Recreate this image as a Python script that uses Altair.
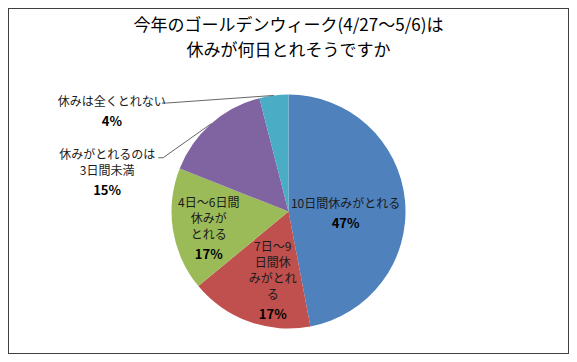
import altair as alt
import pandas as pd

# ---- data -------------------------------------------------------------
categories = [
    "10日間休みがとれる",
    "7日〜9日間休みがとれる",
    "4日〜6日間休みがとれる",
    "休みがとれるのは3日間未満",
    "休みは全くとれない",
]
shares = [47, 17, 17, 15, 4]
colors = ["#4F81BD", "#C0504D", "#9BBB59", "#8064A2", "#4BACC6"]
title_lines = ["今年のゴールデンウィーク(4/27〜5/6)は", "休みが何日とれそうですか"]

# how each category name wraps inside its label box
label_lines = {
    categories[0]: ["10日間休みがとれる"],
    categories[1]: ["7日〜9", "日間休", "みがとれ", "る"],
    categories[2]: ["4日〜6日間", "休みが", "とれる"],
    categories[3]: ["休みがとれるのは", "3日間未満"],
    categories[4]: ["休みは全くとれない"],
}

# ---- layout / style ---------------------------------------------------
W, H = 561, 346
CX, CY, R = 280.5, 203.5, 117
FONT = "Noto Sans CJK JP"
LH = 16
NAME_SIZE = 12
PCT_SIZE = 13
PCT_GAP = 3
TEXT_SHIFT = 5
LEAD_COLOR = "#666666"

df = pd.DataFrame({"category": categories, "share": shares, "idx": list(range(len(categories)))})

base = (
    alt.Chart(df)
    .transform_window(cum="sum(share)", sort=[alt.SortField("idx")], frame=[None, 0])
    .transform_joinaggregate(total="sum(share)")
    .transform_calculate(
        mid="2*PI*(datum.cum - datum.share/2)/datum.total",
        pct="datum.share + '%'",
    )
)

pie = base.mark_arc(radius=R).encode(
    theta=alt.Theta("share:Q", stack=True),
    order=alt.Order("idx:Q"),
    color=alt.Color("category:N", scale=alt.Scale(domain=categories, range=colors), legend=None),
    x=alt.value(CX),
    y=alt.value(CY),
)


def px(field):
    return alt.X(f"{field}:Q", scale=None, axis=None)


def py(field):
    return alt.Y(f"{field}:Q", scale=None, axis=None)


def text_block(sel, cat, xf, yf, dx, dy):
    lines = label_lines[cat]
    n = len(lines)
    dy = dy + TEXT_SHIFT
    name = sel.mark_text(
        font=FONT, fontSize=NAME_SIZE, color="#1a1a1a", align="center",
        baseline="top", lineHeight=LH, lineBreak="\n", dx=dx, dy=dy,
    ).encode(x=px(xf), y=py(yf), text=alt.value("\n".join(lines)))
    pct = sel.mark_text(
        font=FONT, fontSize=PCT_SIZE, fontWeight="bold", color="#000000",
        align="center", baseline="top", dx=dx, dy=dy + n * LH + PCT_GAP,
    ).encode(x=px(xf), y=py(yf), text="pct:N")
    return [name, pct]


def inside_label(cat, r, dx=0, dy=0):
    n = len(label_lines[cat])
    block = n * LH + 18
    sel = base.transform_filter(alt.datum.category == cat).transform_calculate(
        lx=f"{CX} + {r * R}*sin(datum.mid)",
        ly=f"{CY} - {r * R}*cos(datum.mid)",
    )
    return text_block(sel, cat, "lx", "ly", dx, dy - block / 2)


def outside_label(cat, ox, oy, tdx, tdy):
    sel = base.transform_filter(alt.datum.category == cat).transform_calculate(
        ex=f"{CX} + {R}*sin(datum.mid)",
        ey=f"{CY} - {R}*cos(datum.mid)",
    ).transform_calculate(
        lx=f"datum.ex + ({ox})",
        ly=f"datum.ey + ({oy})",
    ).transform_calculate(kx="datum.lx - 5")
    lead1 = sel.mark_rule(color=LEAD_COLOR, strokeWidth=1).encode(
        x=px("ex"), y=py("ey"), x2=alt.X2("lx:Q"), y2=alt.Y2("ly:Q"))
    lead2 = sel.mark_rule(color=LEAD_COLOR, strokeWidth=1).encode(
        x=px("lx"), y=py("ly"), x2=alt.X2("kx:Q"), y2=alt.Y2("ly:Q"))
    return [lead1, lead2] + text_block(sel, cat, "lx", "ly", tdx, tdy)


title_marks = [
    alt.Chart(df.head(1)).mark_text(
        font=FONT, fontSize=17, color="#000000", align="center", baseline="middle",
    ).encode(x=alt.value(CX), y=alt.value(18 + 25 * i), text=alt.value(line))
    for i, line in enumerate(title_lines)
]

layers = [pie]
layers += inside_label(categories[0], 0.49, 0, 5)
layers += inside_label(categories[1], 0.60, 8, 0)
layers += inside_label(categories[2], 0.69, 0, 2)
layers += outside_label(categories[3], -48, 34, -56, -13)
layers += outside_label(categories[4], -107, 7.6, -55, -11)
layers += title_marks

chart = (
    alt.layer(*layers)
    .properties(width=W, height=H, autosize=alt.AutoSizeParams(type="none"), padding=0)
    .configure_view(stroke="#404040", strokeWidth=2)
)

chart.save("out.html", embed_options={"renderer": "svg", "actions": False})
